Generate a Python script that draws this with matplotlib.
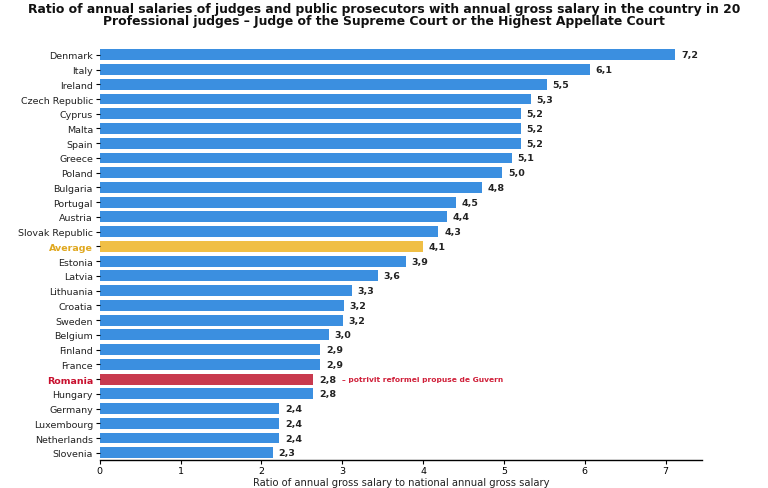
import matplotlib.pyplot as plt

countries = ['Denmark', 'Italy', 'Ireland', 'Czech Republic', 'Cyprus', 'Malta',
             'Spain', 'Greece', 'Poland', 'Bulgaria', 'Portugal', 'Austria',
             'Slovak Republic', 'Average', 'Estonia', 'Latvia', 'Lithuania',
             'Croatia', 'Sweden', 'Belgium', 'Finland', 'France', 'Romania',
             'Hungary', 'Germany', 'Luxembourg', 'Netherlands', 'Slovenia']
# bar lengths as drawn in the source chart
ratios = [7.12, 6.06, 5.53, 5.33, 5.21, 5.21, 5.21, 5.10, 4.98, 4.73, 4.41,
          4.29, 4.19, 4.00, 3.79, 3.44, 3.12, 3.02, 3.01, 2.83, 2.73, 2.73,
          2.64, 2.64, 2.22, 2.22, 2.22, 2.14]
# value labels printed next to bars
value_labels = ['7,2', '6,1', '5,5', '5,3', '5,2', '5,2', '5,2', '5,1', '5,0',
                '4,8', '4,5', '4,4', '4,3', '4,1', '3,9', '3,6', '3,3', '3,2',
                '3,2', '3,0', '2,9', '2,9', '2,8', '2,8', '2,4', '2,4', '2,4',
                '2,3']
note = '– potrivit reformei propuse de Guvern'
title_1 = 'Ratio of annual salaries of judges and public prosecutors with annual gross salary in the country in 20'
title_2 = 'Professional judges – Judge of the Supreme Court or the Highest Appellate Court'

BLUE = '#3b8fe0'
GOLD = '#f0bf45'
RED = '#c83a4e'

fig = plt.figure(figsize=(7.68, 4.89), dpi=100)
ax = fig.add_axes([0.130, 0.057, 0.784, 0.847])

colors = []
for c in countries:
    if c == 'Average':
        colors.append(GOLD)
    elif c == 'Romania':
        colors.append(RED)
    else:
        colors.append(BLUE)

pos = list(range(len(countries)))
ax.barh(pos, ratios, height=0.74, color=colors)

for i, (v, lab) in enumerate(zip(ratios, value_labels)):
    special = countries[i] in ('Average', 'Romania')
    ax.text(v + 0.07, i, lab, va='center', ha='left', fontsize=6.8,
            fontweight='bold' if special else 'semibold', color='#222222')
    if countries[i] == 'Romania':
        ax.text(v + 0.36, i, note, va='center', ha='left', fontsize=5.4,
                fontweight='bold', color='#d0203a')

ax.set_yticks(pos)
ax.set_yticklabels(countries, fontsize=6.8)
for lbl, c in zip(ax.get_yticklabels(), countries):
    if c == 'Average':
        lbl.set_color('#e0a820')
        lbl.set_fontweight('bold')
    elif c == 'Romania':
        lbl.set_color('#c8102e')
        lbl.set_fontweight('bold')
    else:
        lbl.set_color('#222222')

ax.set_ylim(len(countries) - 0.5, -0.6)
ax.set_xlim(0, 7.45)
ax.set_xticks(range(0, 8))
ax.tick_params(axis='x', labelsize=6.8, length=3, width=0.8, pad=1)
ax.tick_params(axis='y', length=3, width=0.8, pad=2)

for s in ['top', 'right', 'left']:
    ax.spines[s].set_visible(False)
ax.spines['bottom'].set_linewidth(1.0)

ax.set_xlabel('Ratio of annual gross salary to national annual gross salary',
              fontsize=7.2, labelpad=2, color='#222222')

fig.text(0.5, 1 - 10 / 489, title_1, ha='center', va='center', fontsize=8.95,
         fontweight='bold', color='#111111')
fig.text(0.5, 1 - 22 / 489, title_2, ha='center', va='center', fontsize=8.95,
         fontweight='bold', color='#111111')

fig.savefig('out.png', dpi=100)
plt.close(fig)
